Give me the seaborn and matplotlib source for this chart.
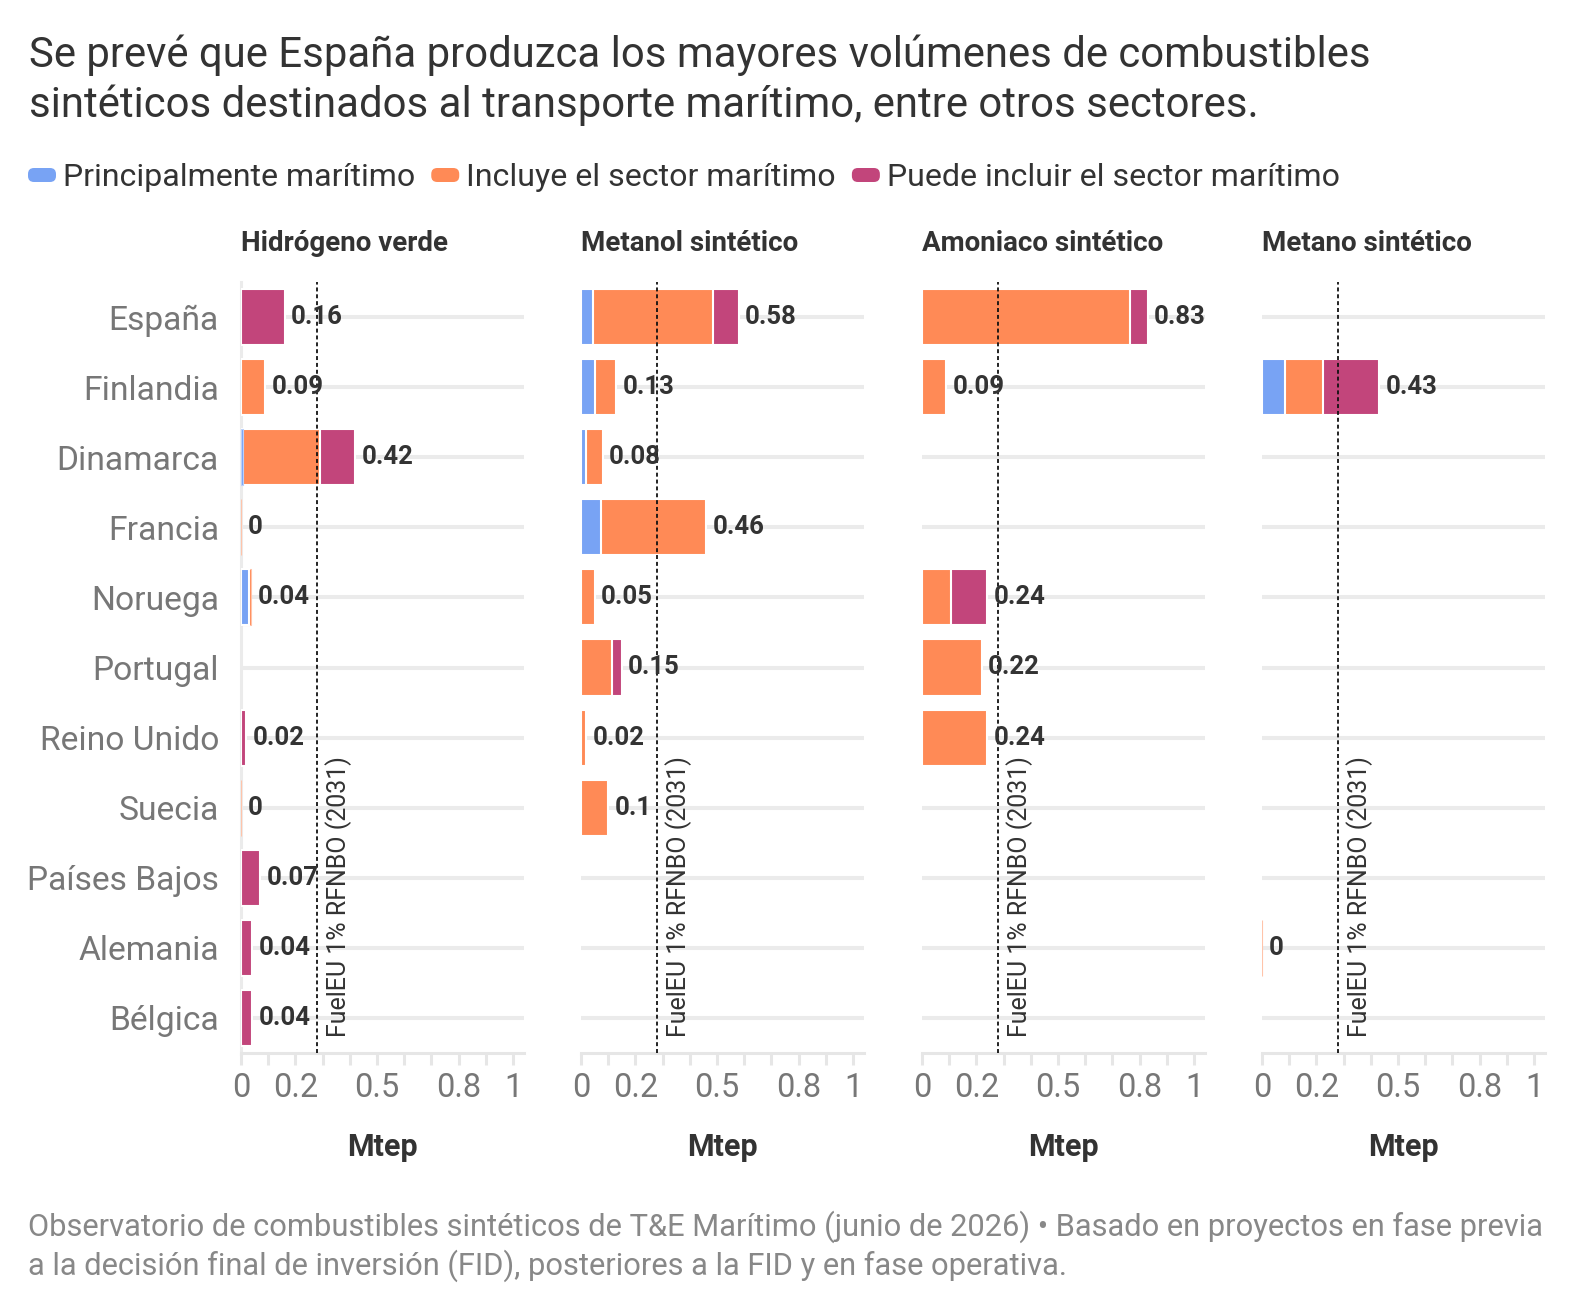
import numpy as np
import pandas as pd
import matplotlib
matplotlib.use("Agg")
import matplotlib.pyplot as plt
import matplotlib.transforms as mtransforms
from matplotlib.patches import FancyBboxPatch
from matplotlib.ticker import FixedLocator, FixedFormatter
import seaborn as sns

N = np.nan

countries = ["España", "Finlandia", "Dinamarca", "Francia", "Noruega", "Portugal",
             "Reino Unido", "Suecia", "Países Bajos", "Alemania", "Bélgica"]
fuels = ["Hidrógeno verde", "Metanol sintético", "Amoniaco sintético", "Metano sintético"]
categories = ["Principalmente marítimo", "Incluye el sector marítimo",
              "Puede incluir el sector marítimo"]
cat_colors = ["#78A3F4", "#FF8A56", "#C2457B"]
cat_edges = ["#BBD0F9", "#FFC4AA", "#E0A2BD"]

# Mtep per country (NaN = no projects)
h2_principal = [0, 0, 0.006, 0, 0.028, N, 0, 0, 0, 0, 0]
h2_incluye = [0, 0.09, 0.284, 0.001, 0.01, N, 0, 0.001, 0, 0, 0]
h2_puede = [0.16, 0, 0.13, 0, 0, N, 0.02, 0, 0.07, 0.04, 0.04]

metanol_principal = [0.045, 0.05, 0.02, 0.075, 0, 0, 0, 0, N, N, N]
metanol_incluye = [0.44, 0.08, 0.06, 0.385, 0.05, 0.115, 0.02, 0.1, N, N, N]
metanol_puede = [0.095, 0, 0, 0, 0, 0.035, 0, 0, N, N, N]

amoniaco_principal = [0, 0, N, N, 0, 0, 0, N, N, N, N]
amoniaco_incluye = [0.765, 0.09, N, N, 0.105, 0.22, 0.24, N, N, N, N]
amoniaco_puede = [0.065, 0, N, N, 0.135, 0, 0, N, N, N, N]

metano_principal = [N, 0.085, N, N, N, N, N, N, N, 0, N]
metano_incluye = [N, 0.14, N, N, N, N, N, N, N, 0.001, N]
metano_puede = [N, 0.205, N, N, N, N, N, N, N, 0, N]

ref_value = 0.28
ref_label = "FuelEU 1% RFNBO (2031)"
xtick_values = [0, 0.1, 0.2, 0.3, 0.4, 0.5, 0.6, 0.7, 0.8, 0.9, 1.0]
xtick_labels = ["0", "", "0.2", "", "", "0.5", "", "", "0.8", "", "1"]

title_lines = ["Se prevé que España produzca los mayores volúmenes de combustibles",
               "sintéticos destinados al transporte marítimo, entre otros sectores."]
footer_lines = ["Observatorio de combustibles sintéticos de T&E Marítimo (junio de 2026) • Basado en proyectos en fase previa",
                "a la decisión final de inversión (FID), posteriores a la FID y en fase operativa."]

series = {
    fuels[0]: (h2_principal, h2_incluye, h2_puede),
    fuels[1]: (metanol_principal, metanol_incluye, metanol_puede),
    fuels[2]: (amoniaco_principal, amoniaco_incluye, amoniaco_puede),
    fuels[3]: (metano_principal, metano_incluye, metano_puede),
}
rows = []
for f, vals in series.items():
    for cat, v in zip(categories, vals):
        for c, x in zip(countries, v):
            rows.append({"fuel": f, "category": cat, "country": c, "value": x})
long_df = pd.DataFrame(rows)

sns.set_theme(style="white")
plt.rcParams["font.family"] = ["Roboto", "DejaVu Sans"]

W, H = 1588, 1310
fig = plt.figure(figsize=(W / 100, H / 100), dpi=100)
fig.patch.set_facecolor("white")

DARK = "#333333"
GREY = "#777777"
GRID = "#ebebeb"
AX = "#e6e6e6"

px_per_unit = 272
xmax = 1.04
lefts = [241, 581, 922, 1262]
top_px, bot_px = 282, 1053


def fmt(v):
    return f"{v:.2f}".rstrip("0").rstrip(".")


def draw_layer(ax, d, xcol, color, edge, lw):
    if d.empty:
        return
    sns.barplot(data=d, x=xcol, y="country", order=countries, orient="h",
                color=color, saturation=1, width=0.8, errorbar=None,
                edgecolor=edge, linewidth=lw, ax=ax, zorder=3)


for i, fuel in enumerate(fuels):
    ax = fig.add_axes([lefts[i] / W, 1 - bot_px / H,
                       xmax * px_per_unit / W, (bot_px - top_px) / H])
    w = (long_df[long_df.fuel == fuel]
         .pivot(index="country", columns="category", values="value")
         .reindex(countries)[categories])
    present = w.notna().any(axis=1)
    wz = w.fillna(0)
    d = pd.DataFrame({"country": countries})
    d["c1"] = wz[categories[0]].values
    d["c2"] = d["c1"] + wz[categories[1]].values
    d["c3"] = d["c2"] + wz[categories[2]].values
    seg = [wz[c].values for c in categories]
    layers = [("c3", 2), ("c2", 1), ("c1", 0)]
    for col, k in layers:
        big = d[seg[k] >= 0.012]
        tiny = d[(seg[k] > 0) & (seg[k] < 0.012)]
        draw_layer(ax, big, col, cat_colors[k], "white", 1.5)
        draw_layer(ax, tiny, col, cat_colors[k], cat_edges[k], 0.8)

    # value labels
    for j, c in enumerate(countries):
        if present.iloc[j]:
            tot = d["c3"].iloc[j]
            ax.annotate(fmt(tot), xy=(tot, j), xytext=(4.6, 0),
                        textcoords="offset points", ha="left", va="center",
                        fontsize=18.5, fontweight="bold", color=DARK, zorder=5)

    ax.set_xlim(0, xmax)
    ax.set_ylim(len(countries) - 0.5, -0.5)
    ax.set_axisbelow(True)
    ax.grid(False)
    ax.yaxis.grid(True, color=GRID, linewidth=2.9)

    # reference line
    ax.axvline(ref_value, color="#111111", linestyle=(0, (2.2, 1.6)),
               linewidth=1.3, zorder=4)
    tr = mtransforms.offset_copy(ax.transData, fig=fig, x=8, y=16, units="dots")
    ax.text(ref_value, len(countries) - 0.5, ref_label, rotation=90,
            ha="left", va="bottom", fontsize=18, color=DARK, transform=tr, zorder=5)

    for s in ["top", "right"]:
        ax.spines[s].set_visible(False)
    ax.spines["bottom"].set_color(AX)
    ax.spines["bottom"].set_linewidth(2.2)
    if i == 0:
        ax.spines["left"].set_color(GRID)
        ax.spines["left"].set_linewidth(2.2)
        ax.tick_params(axis="y", length=9.4, width=2.9, color=GRID, pad=6.5,
                       labelsize=24.2, labelcolor=GREY)
    else:
        ax.spines["left"].set_visible(False)
        ax.tick_params(axis="y", length=0, labelleft=False)

    ax.xaxis.set_major_locator(FixedLocator(xtick_values))
    ax.xaxis.set_major_formatter(FixedFormatter(xtick_labels))
    ax.tick_params(axis="x", bottom=True, length=8.6, width=2.2, color=AX, pad=5,
                   labelsize=23.5, labelcolor=GREY)
    ax.set_ylabel("")
    ax.set_xlabel("Mtep", fontsize=22, fontweight="bold", color=DARK, labelpad=20)
    ax.set_title(fuel, loc="left", fontsize=20, fontweight="bold", color=DARK, pad=22.3)

# title
fig.text(29 / W, 1 - 67 / H, title_lines[0], fontsize=30.2, color=DARK, va="baseline")
fig.text(29 / W, 1 - 117 / H, title_lines[1], fontsize=30.2, color=DARK, va="baseline")

# legend
renderer = fig.canvas.get_renderer()
x = 28
for cat, col in zip(categories, cat_colors):
    patch = FancyBboxPatch((x, H - 182), 28, 14,
                           boxstyle="round,pad=0,rounding_size=6",
                           facecolor=col, edgecolor="none", transform=None,
                           figure=fig)
    fig.patches.append(patch)
    t = fig.text((x + 35) / W, 1 - 186 / H, cat, fontsize=23.1, color=DARK,
                 va="baseline", ha="left")
    bb = t.get_window_extent(renderer)
    x = bb.x1 + 16

# footer
fig.text(28 / W, 1 - 1236 / H, footer_lines[0], fontsize=22.2, color="#888888", va="baseline")
fig.text(28 / W, 1 - 1275 / H, footer_lines[1], fontsize=22.2, color="#888888", va="baseline")

fig.savefig("out.png", dpi=100, facecolor="white")
